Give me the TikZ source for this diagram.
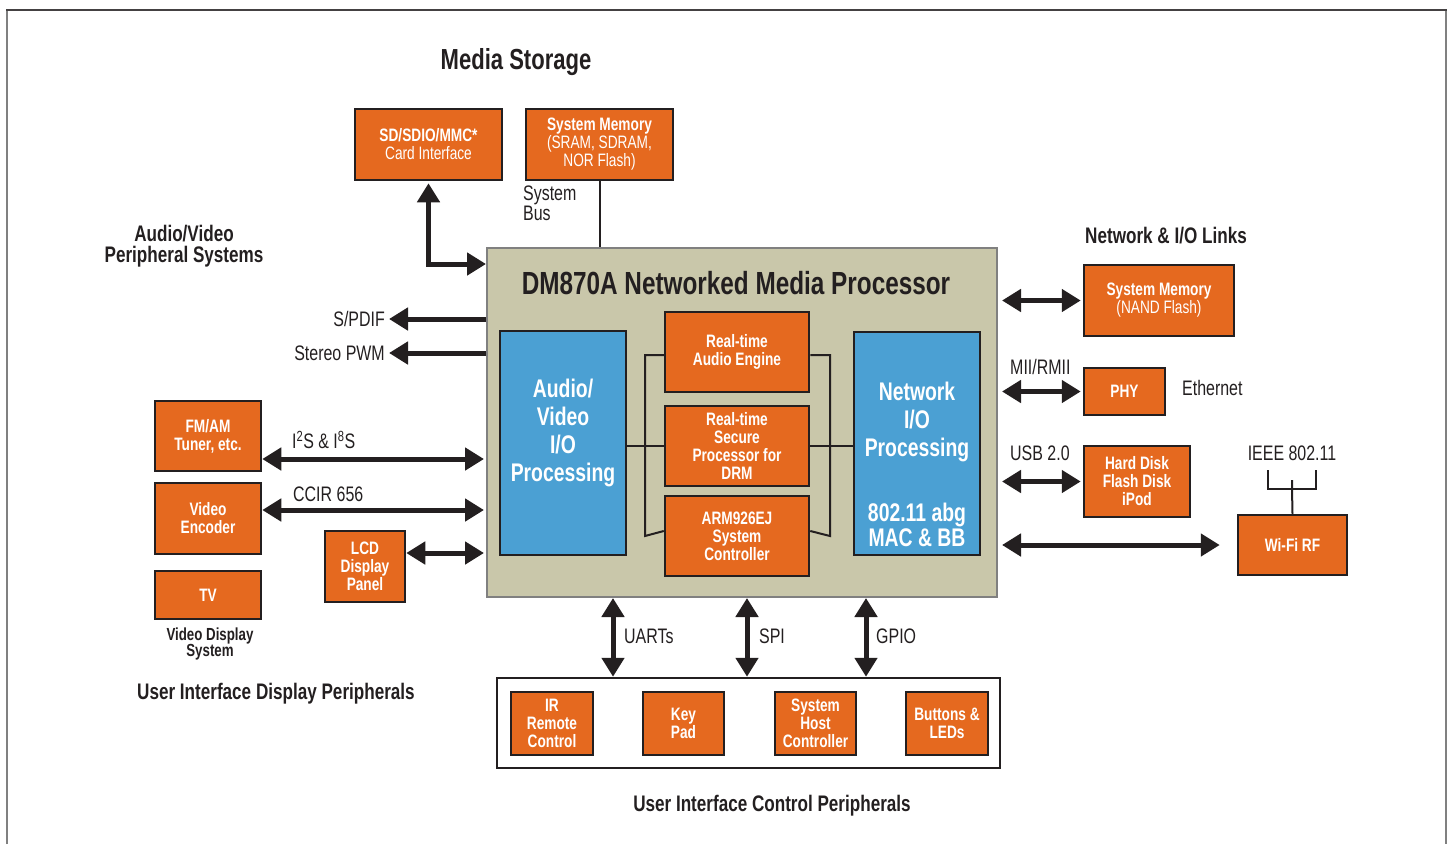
\documentclass[tikz,border=0pt]{standalone}
\usepackage{fontspec}
\setmainfont[FakeStretch=0.76]{Liberation Sans}
\usetikzlibrary{arrows.meta,calc}
\definecolor{orng}{HTML}{E5691F}
\definecolor{blu}{HTML}{4BA0D3}
\definecolor{tanbg}{HTML}{C9C7AA}
\definecolor{dk}{HTML}{231F20}
\definecolor{frm}{HTML}{808080}
\begin{document}
\begin{tikzpicture}[x=1pt,y=-1pt,
  obox/.style={draw=dk, line width=2.5pt, fill=orng, text=white, font=\fontsize{18}{18}\selectfont\bfseries, align=center, inner sep=0pt},
  bbox/.style={draw=dk, line width=2.5pt, fill=blu, inner sep=0pt},
  bigtxt/.style={text=white, font=\fontsize{25.5}{28}\selectfont\bfseries, align=center, inner sep=0pt},
  lbl/.style={text=dk, font=\fontsize{21}{20}\selectfont, inner sep=0pt, align=left},
  hdr/.style={text=dk, font=\fontsize{22.5}{21}\selectfont\bfseries, align=center, inner sep=0pt},
  dbl/.style={draw=dk, line width=5pt, {Triangle[length=19pt,width=22pt]}-{Triangle[length=19pt,width=22pt]}},
  sgl/.style={draw=dk, line width=5pt, -{Triangle[length=19pt,width=22pt]}},
  thinln/.style={draw=dk, line width=2pt}]
\useasboundingbox (0,0) rectangle (1448,844);
% frame
\draw[frm, line width=2pt] (7,844) -- (7,10);
\draw[frm, line width=2pt] (1446,10) -- (1446,844);
\draw[dk!85, line width=2pt] (6,10) -- (1447,10);

% main processor
\node[draw=frm, line width=2pt, fill=tanbg, minimum width=510pt, minimum height=349pt, inner sep=0pt] (main) at (742,422.5) {};
\node[text=dk, font=\fontsize{32}{32}\selectfont\bfseries, inner sep=0pt] (title) at (736,283) {DM870A Networked Media Processor};

\node[bbox, minimum width=126pt, minimum height=224pt] (av) at (563,443) {};
\node[bigtxt] (avt) at (563,433) {Audio/\\Video\\I/O\\Processing};
\node[bbox, minimum width=126pt, minimum height=223pt] (net) at (917,443.5) {};
\node[bigtxt] (nett) at (917,422) {Network\\I/O\\Processing};
\node[bigtxt, font=\fontsize{25.5}{25}\selectfont\bfseries] (macbb) at (917,525) {802.11 abg\\MAC \& BB};

\node[obox, minimum width=144pt, minimum height=80pt] (audio) at (737,352) {Real-time\\Audio Engine};
\node[obox, minimum width=144pt, minimum height=80pt] (secure) at (737,446) {Real-time\\Secure\\Processor for\\DRM};
\node[obox, minimum width=144pt, minimum height=80pt] (arm) at (737,536) {ARM926EJ\\System\\Controller};

\coordinate (bl) at (645,0);
\coordinate (br) at (830,0);
\draw[thinln] ([yshift=-3pt]audio.west) -| (bl |- arm.west) -- ([yshift=5pt]arm.west);
\draw[thinln] ([yshift=-3pt]audio.east) -| (br |- arm.east) -- ([yshift=5pt]arm.east);
\draw[thinln] (av.east |- secure.west) -- (secure.west);
\draw[thinln] (secure.east) -- (net.west |- secure.east);

% media storage
\node[text=dk, font=\fontsize{29}{29}\selectfont\bfseries, inner sep=0pt] (ms) at (516,62) {Media Storage};
\node[obox, minimum width=147pt, minimum height=71pt] (sd) at (428.5,144.5) {SD/SDIO/MMC*\\\mdseries Card Interface};
\node[obox, minimum width=147pt, minimum height=71pt] (sysmem) at (599.5,144.5) {System Memory\\\mdseries (SRAM, SDRAM,\\\mdseries NOR Flash)};
\node[lbl, anchor=north west] (sbus) at (523,186) {System\\Bus};
\draw[thinln] (sysmem.south) -- (sysmem.south |- main.north);
\draw[dbl] ([yshift=-2pt]sd.south) |- ([yshift=-17pt]main.north west);

% left side
\node[hdr] (avps) at (184,246) {Audio/Video\\Peripheral Systems};
\node[lbl, anchor=east] (spdif) at (385,319) {S/PDIF};
\node[lbl, anchor=east] (pwm) at (385,353) {Stereo PWM};
\draw[sgl] (main.west |- spdif.east) -- ([xshift=4pt]spdif.east);
\draw[sgl] (main.west |- pwm.east) -- ([xshift=4pt]pwm.east);

\node[obox, minimum width=106pt, minimum height=70pt] (fm) at (208,436) {FM/AM\\Tuner, etc.};
\node[obox, minimum width=106pt, minimum height=71pt] (venc) at (208,518.5) {Video\\Encoder};
\node[obox, minimum width=106pt, minimum height=48pt] (tv) at (208,595) {TV};
\node[obox, minimum width=80pt, minimum height=71pt] (lcd) at (365,566.5) {LCD\\Display\\Panel};
\node[hdr, font=\fontsize{17.5}{16}\selectfont\bfseries] (vds) at (210,644) {Video Display\\System};
\node[hdr] (uidp) at (276,694) {User Interface Display Peripherals};

\coordinate (yi2s) at (0,459);
\coordinate (yccir) at (0,510);
\coordinate (ylcd) at (0,553);
\node[lbl, anchor=west] (i2s) at (292,440) {I\textsuperscript{2}S \& I\textsuperscript{8}S};
\node[lbl, anchor=west] (ccir) at (293,494) {CCIR 656};
\draw[dbl] (fm.east |- yi2s) -- ([xshift=-2pt]main.west |- yi2s);
\draw[dbl] (venc.east |- yccir) -- ([xshift=-2pt]main.west |- yccir);
\draw[dbl] (lcd.east |- ylcd) -- ([xshift=-2pt]main.west |- ylcd);

% right side
\node[hdr] (nio) at (1166,236) {Network \& I/O Links};
\node[obox, minimum width=150pt, minimum height=71pt] (nand) at (1159,300.5) {System Memory\\\mdseries (NAND Flash)};
\node[obox, minimum width=81pt, minimum height=47pt] (phy) at (1124.5,391.5) {PHY};
\node[obox, minimum width=106pt, minimum height=71pt] (hd) at (1137,481.5) {Hard Disk\\Flash Disk\\iPod};
\node[obox, minimum width=109pt, minimum height=60pt] (wifi) at (1292.5,545) {Wi-Fi RF};
\node[lbl, anchor=west] (mii) at (1010,367) {MII/RMII};
\node[lbl, anchor=west] (eth) at (1182,388) {Ethernet};
\node[lbl, anchor=west] (usb) at (1010,453) {USB 2.0};
\node[lbl] (ieee) at (1292,453) {IEEE 802.11};
\draw[dbl, shorten <=4pt, shorten >=2pt] (main.east |- nand.west) -- (nand.west);
\draw[dbl, shorten <=4pt, shorten >=2pt] (main.east |- phy.west) -- (phy.west);
\draw[dbl, shorten <=4pt, shorten >=2pt] (main.east |- hd.west) -- (hd.west);
\draw[dbl, shorten <=4pt, shorten >=17pt] (main.east |- wifi.west) -- (wifi.west);
\coordinate (ant) at (1292,489);
\draw[thinln] (wifi.north) -- (ant) -- ++(0,-9);
\draw[thinln] (1268,470) -- (1268,489) -- (1316,489) -- (1316,470);

% bottom
\node[draw=dk, line width=2.5pt, fill=white, minimum width=503pt, minimum height=90pt, inner sep=0pt] (ui) at (748.5,723) {};
\node[obox, minimum width=82pt, minimum height=63pt] (ir) at (552,723.5) {IR\\Remote\\Control};
\node[obox, minimum width=81pt, minimum height=63pt] (key) at (683.5,723.5) {Key\\Pad};
\node[obox, minimum width=81pt, minimum height=63pt] (shc) at (815.5,723.5) {System\\Host\\Controller};
\node[obox, minimum width=82pt, minimum height=63pt] (btn) at (947,723.5) {Buttons \&\\LEDs};
\node[hdr] (uicp) at (772,806) {User Interface Control Peripherals};

\coordinate (xua) at (613,0);
\coordinate (xspi) at (747,0);
\coordinate (xgp) at (866,0);
\draw[dbl] (main.south -| xua) -- (ui.north -| xua);
\draw[dbl] (main.south -| xspi) -- (ui.north -| xspi);
\draw[dbl] (main.south -| xgp) -- (ui.north -| xgp);
\node[lbl, anchor=west] (uarts) at (624,636) {UARTs};
\node[lbl, anchor=west] (spi) at (759,636) {SPI};
\node[lbl, anchor=west] (gpio) at (876,636) {GPIO};
\end{tikzpicture}
\end{document}
